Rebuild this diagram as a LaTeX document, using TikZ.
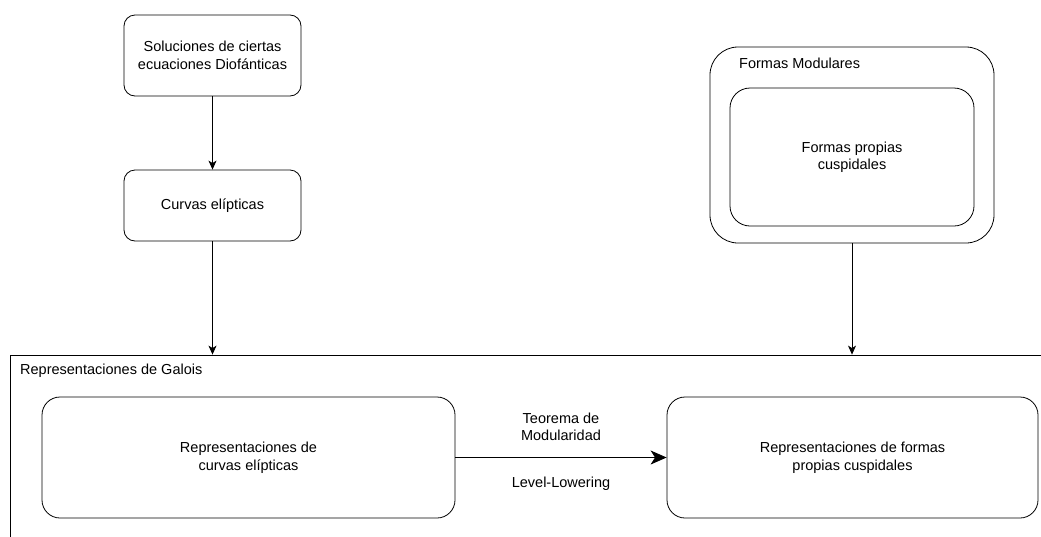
\documentclass[tikz,border=0pt]{standalone}
\usepackage{fontspec}
\setmainfont{Liberation Sans}
\usetikzlibrary{arrows.meta,positioning}

\begin{document}
\begin{tikzpicture}[x=1pt, y=-1pt,
  box/.style={draw, rounded corners=#1, inner sep=0pt, align=center, line width=0.8pt},
  box/.default=11pt,
  flecha/.style={line width=0.8pt, -{Stealth[length=9pt, width=8pt, inset=2.5pt]}},
  font=\fontsize{14.5}{17.5}\selectfont]
\useasboundingbox (0,0) rectangle (1041,536);
\clip (0,0) rectangle (1041,536);
\node (sol) at (212.5,55.5) [box, minimum width=177pt, minimum height=81pt] {Soluciones de ciertas\\ecuaciones Diofánticas};
\node (curv) at (212.5,205.5) [box, minimum width=177pt, minimum height=71pt] {Curvas elípticas};
\node (mod) at (852,145) [box=28pt, minimum width=284pt, minimum height=196pt] {};
\node (modlab) at (739,63) [anchor=west, inner sep=0pt] {Formas Modulares};
\node (prop) at (852,157) [box=20pt, minimum width=244pt, minimum height=138pt] {Formas propias\\cuspidales};
\node (gal) at (540,460) [draw, line width=0.8pt, minimum width=1060pt, minimum height=210pt, inner sep=0pt] {};
\node (gallab) at (20,371) [anchor=west, inner sep=0pt] {Representaciones de Galois};
\node (repc) at (248.5,457.5) [box=18pt, minimum width=413pt, minimum height=121pt] {Representaciones de\\curvas elípticas};
\node (repf) at (852.5,457.5) [box=18pt, minimum width=371pt, minimum height=121pt] {Representaciones de formas\\propias cuspidales};
\draw[flecha] (sol) -- (curv);
\draw[flecha] (curv) -- (curv |- gal.north);
\draw[flecha] (mod) -- (mod |- gal.north);
\draw[line width=0.8pt, -{Stealth[length=16pt, width=14pt, inset=4.5pt]}] (repc) -- node[midway, above=16pt, inner sep=0pt, align=center] {Teorema de\\Modularidad} node[midway, below=19pt, inner sep=0pt] {Level-Lowering} (repf);
\end{tikzpicture}
\end{document}
